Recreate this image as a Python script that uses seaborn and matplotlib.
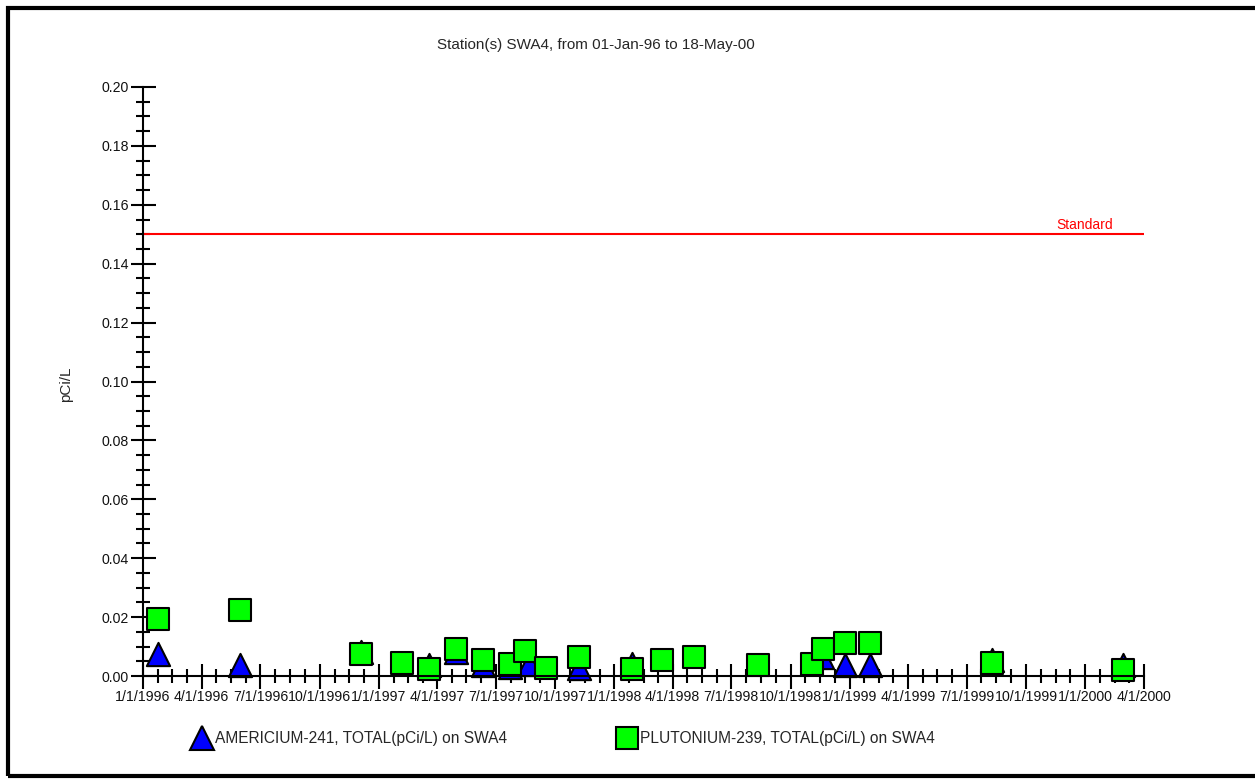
import numpy as np
import pandas as pd
import matplotlib
matplotlib.use("Agg")
import matplotlib.pyplot as plt
import matplotlib.dates as mdates
from matplotlib.ticker import MultipleLocator, FuncFormatter, FixedLocator
from matplotlib.lines import Line2D
from matplotlib.patches import Rectangle
import seaborn as sns

# ---- data -------------------------------------------------------------
am_dates = ["1996-01-25", "1996-05-30", "1996-12-04", "1997-03-19", "1997-04-30",
            "1997-06-11", "1997-07-23", "1997-08-21", "1997-11-07", "1998-01-28",
            "1998-11-18", "1998-12-24", "1999-02-01", "1999-08-10", "2000-02-29"]
am_values = [0.0075, 0.0037, 0.0081, 0.0037, 0.0083,
             0.0036, 0.0029, 0.0040, 0.0027, 0.0041,
             0.0063, 0.0036, 0.0036, 0.0054, 0.0037]

pu_dates = ["1996-01-25", "1996-05-30", "1996-12-04", "1997-02-05", "1997-03-19",
            "1997-04-30", "1997-06-11", "1997-07-23", "1997-08-15", "1997-09-17",
            "1997-11-07", "1998-01-28", "1998-03-16", "1998-05-05", "1998-08-12",
            "1998-11-03", "1998-11-20", "1998-12-24", "1999-02-01", "1999-08-10",
            "2000-02-29"]
pu_values = [0.0194, 0.0224, 0.0075, 0.0044, 0.0024,
             0.0092, 0.0054, 0.0041, 0.0085, 0.0027,
             0.0065, 0.0024, 0.0054, 0.0065, 0.0036,
             0.0041, 0.0093, 0.0112, 0.0112, 0.0044,
             0.0022]

standard_value = 0.15
am_label = "AMERICIUM-241, TOTAL(pCi/L) on SWA4"
pu_label = "PLUTONIUM-239, TOTAL(pCi/L) on SWA4"
title = "Station(s) SWA4, from 01-Jan-96 to 18-May-00"
x_start, x_end = "1996-01-01", "2000-04-01"

am = pd.DataFrame({"date": pd.to_datetime(am_dates), "value": am_values})
pu = pd.DataFrame({"date": pd.to_datetime(pu_dates), "value": pu_values})

# ---- figure -----------------------------------------------------------
sns.set_style("white")
plt.rcParams["font.family"] = ["Liberation Sans", "DejaVu Sans"]
FS = 11
TICK_FS = 10.2

W, H = 1255, 779
fig = plt.figure(figsize=(W / 100, H / 100), dpi=100)
ax = fig.add_axes([143 / W, 1 - 676 / H, (1144 - 143) / W, (676 - 87) / H])

AM_BLUE = "#0000FF"
PU_GREEN = "#00FF00"

sns.scatterplot(data=am, x="date", y="value", marker="^", s=280,
                color=AM_BLUE, edgecolor="black", linewidth=1.5,
                ax=ax, clip_on=False, legend=False)
sns.scatterplot(data=pu, x="date", y="value", marker="s", s=262,
                color=PU_GREEN, edgecolor="black", linewidth=1.5,
                ax=ax, clip_on=False, legend=False)

# regulatory standard
ax.axhline(standard_value, color="red", lw=1.5, zorder=1.5)
ax.text(pd.Timestamp("1999-12-31"), standard_value + 0.0006, "Standard",
        color="red", fontsize=10, ha="center", va="bottom")

# ---- axes -------------------------------------------------------------
ax.set_xlim(pd.Timestamp(x_start), pd.Timestamp(x_end))
ax.set_ylim(0, 0.20)

ax.xaxis.set_major_locator(mdates.MonthLocator(bymonth=[1, 4, 7, 10]))
ax.xaxis.set_major_formatter(FuncFormatter(
    lambda v, p: (lambda d: f"{d.month}/{d.day}/{d.year}")(mdates.num2date(v))))
majors = mdates.date2num(pd.date_range(x_start, x_end, freq="QS-JAN"))
minors = [a + (b - a) * k / 4 for a, b in zip(majors[:-1], majors[1:]) for k in (1, 2, 3)]
ax.xaxis.set_minor_locator(FixedLocator(minors))

ax.yaxis.set_major_locator(MultipleLocator(0.02))
ax.yaxis.set_minor_locator(MultipleLocator(0.005))
ax.yaxis.set_major_formatter(FuncFormatter(lambda v, p: f"{v:.2f}"))

for s in ("top", "right"):
    ax.spines[s].set_visible(False)
for s in ("left", "bottom"):
    ax.spines[s].set_linewidth(1.5)
    ax.spines[s].set_color("black")

ax.tick_params(which="major", direction="inout", length=18, width=1.5,
               colors="black", labelsize=TICK_FS, pad=1)
ax.tick_params(which="minor", direction="inout", length=10.5, width=1.5,
               colors="black")
ax.tick_params(axis="both", which="both", bottom=True, left=True)
for lbl in ax.get_xticklabels() + ax.get_yticklabels():
    lbl.set_color("#111111")

ax.set_xlabel("")
ax.set_ylabel("pCi/L", fontsize=FS)
ax.yaxis.set_label_coords((73 - 143) / (1144 - 143), (676 - 384) / (676 - 87))
ax.grid(False)

fig.text(596 / W, 1 - 45 / H, title, ha="center", va="center", fontsize=FS)

# ---- legend -----------------------------------------------------------
handles = [
    Line2D([], [], ls="none", marker="^", ms=17, mfc=AM_BLUE, mec="black", mew=1.5),
    Line2D([], [], ls="none", marker="s", ms=16, mfc=PU_GREEN, mec="black", mew=1.5),
]
fig.legend(handles, [am_label, pu_label], loc="center left",
           bbox_to_anchor=(193 / W, 1 - 739 / H), ncol=2, frameon=False,
           fontsize=11.2, handlelength=1.2, handletextpad=0.24,
           columnspacing=7.1, borderpad=0, borderaxespad=0)

# outer frame
fig.add_artist(Rectangle((8 / W, 3 / H), (1262 - 8) / W, (776 - 8) / H,
                         transform=fig.transFigure, fill=False,
                         lw=3, edgecolor="black", clip_on=False))

fig.savefig("out.png", dpi=100)
